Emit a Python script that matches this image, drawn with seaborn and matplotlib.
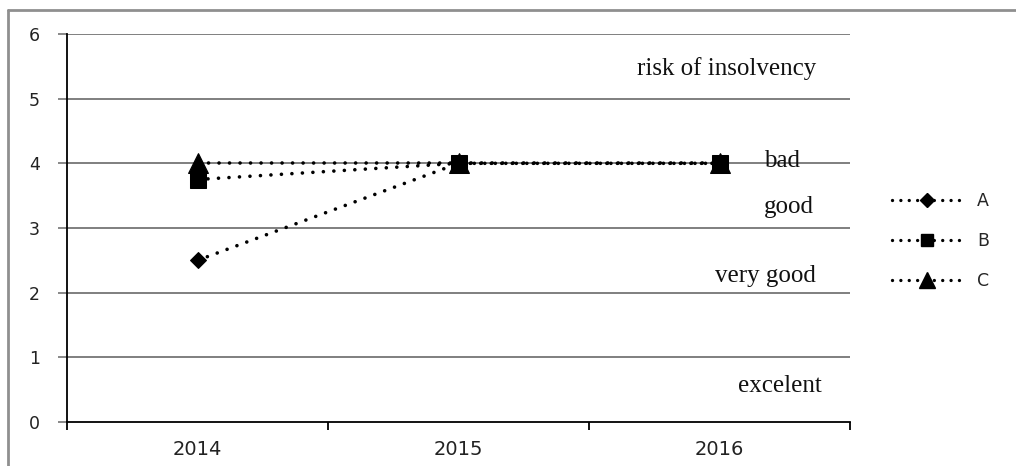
import matplotlib
matplotlib.use("Agg")
import matplotlib.pyplot as plt
from matplotlib.lines import Line2D
import seaborn as sns
import pandas as pd

# data
years = ["2014", "2015", "2016"]
series_A = [2.5, 4.0, 4.0]
series_B = [3.75, 4.0, 4.0]
series_C = [4.0, 4.0, 4.0]
series_names = ["A", "B", "C"]
band_labels = ["risk of insolvency", "bad", "good", "very good", "excelent"]

df = pd.DataFrame({
    "year": years * 3,
    "score": series_A + series_B + series_C,
    "series": [n for n in series_names for _ in years],
})

sns.set_style("white")
plt.rcParams["font.family"] = ["DejaVu Sans"]

fig = plt.figure(figsize=(10.16, 4.66), dpi=100)
ax = fig.add_axes([67 / 1016, 1 - 422 / 466, (850 - 67) / 1016, (422 - 34) / 466])

markers = {"A": "D", "B": "s", "C": "^"}
sizes = {"A": 8, "B": 11, "C": 14}
dots = (0.01, 2.9)

for name in series_names:
    sub = df[df["series"] == name]
    sns.lineplot(data=sub, x="year", y="score", ax=ax, color="black",
                 marker=markers[name], markersize=sizes[name],
                 markeredgecolor="black", markerfacecolor="black",
                 linewidth=2.6, sort=False, legend=False)
for ln in ax.lines:
    ln.set_dashes(dots)
    ln.set_dash_capstyle("round")

ax.set_xlim(-0.5, 2.5)
ax.set_ylim(0, 6)
ax.set_yticks(range(0, 7))
ax.set_xticks([0, 1, 2])
ax.set_xticks([-0.5, 0.5, 1.5, 2.5], minor=True)
ax.set_xlabel("")
ax.set_ylabel("")
ax.grid(False)
for yv in range(1, 7):
    ax.axhline(yv, color="#7f7f7f", lw=1.4, zorder=0)

for side in ["top", "right"]:
    ax.spines[side].set_visible(False)
for side in ["left", "bottom"]:
    ax.spines[side].set_color("black")
    ax.spines[side].set_linewidth(1.3)

ax.tick_params(axis="y", which="major", direction="out", length=6.5, width=1.3,
               color="#7f7f7f", labelsize=12.5, labelcolor="#222222", pad=13, left=True)
ax.tick_params(axis="x", which="major", length=0, labelsize=14, labelcolor="#222222", pad=13)
ax.tick_params(axis="x", which="minor", direction="out", length=6, width=1.3,
               color="black", bottom=True)

# band labels (serif, like the original)
band_x = [2.37, 2.17, 2.17, 2.37, 2.39]
band_y = [5.37, 3.94, 3.23, 2.16, 0.46]
band_ha = ["right", "left", "left", "right", "right"]
for lab, bx, by, ha in zip(band_labels, band_x, band_y, band_ha):
    ax.text(bx, by, lab, ha=ha, va="baseline", fontsize=18,
            family=["Liberation Serif"], color="#111111")

handles = [Line2D([0], [0], color="black", lw=2.4, dashes=(0.01, 2.5), dash_capstyle="round",
                  marker=markers[n], markersize=sizes[n] * 0.85,
                  markerfacecolor="black", markeredgecolor="black")
           for n in series_names]
fig.legend(handles, series_names, loc="center", bbox_to_anchor=(0.926, 0.483),
           frameon=False, numpoints=1, fontsize=12.5, handlelength=4.0,
           handletextpad=0.9, labelspacing=1.25, borderpad=0)

# grey frame of the original picture (top and left edges)
fig.add_artist(Line2D([8 / 1016, 1], [1 - 10 / 466, 1 - 10 / 466], color="#8f8f8f", lw=2))
fig.add_artist(Line2D([8 / 1016, 8 / 1016], [0, 1 - 10 / 466], color="#8f8f8f", lw=2))

fig.savefig("out.png", dpi=100)
